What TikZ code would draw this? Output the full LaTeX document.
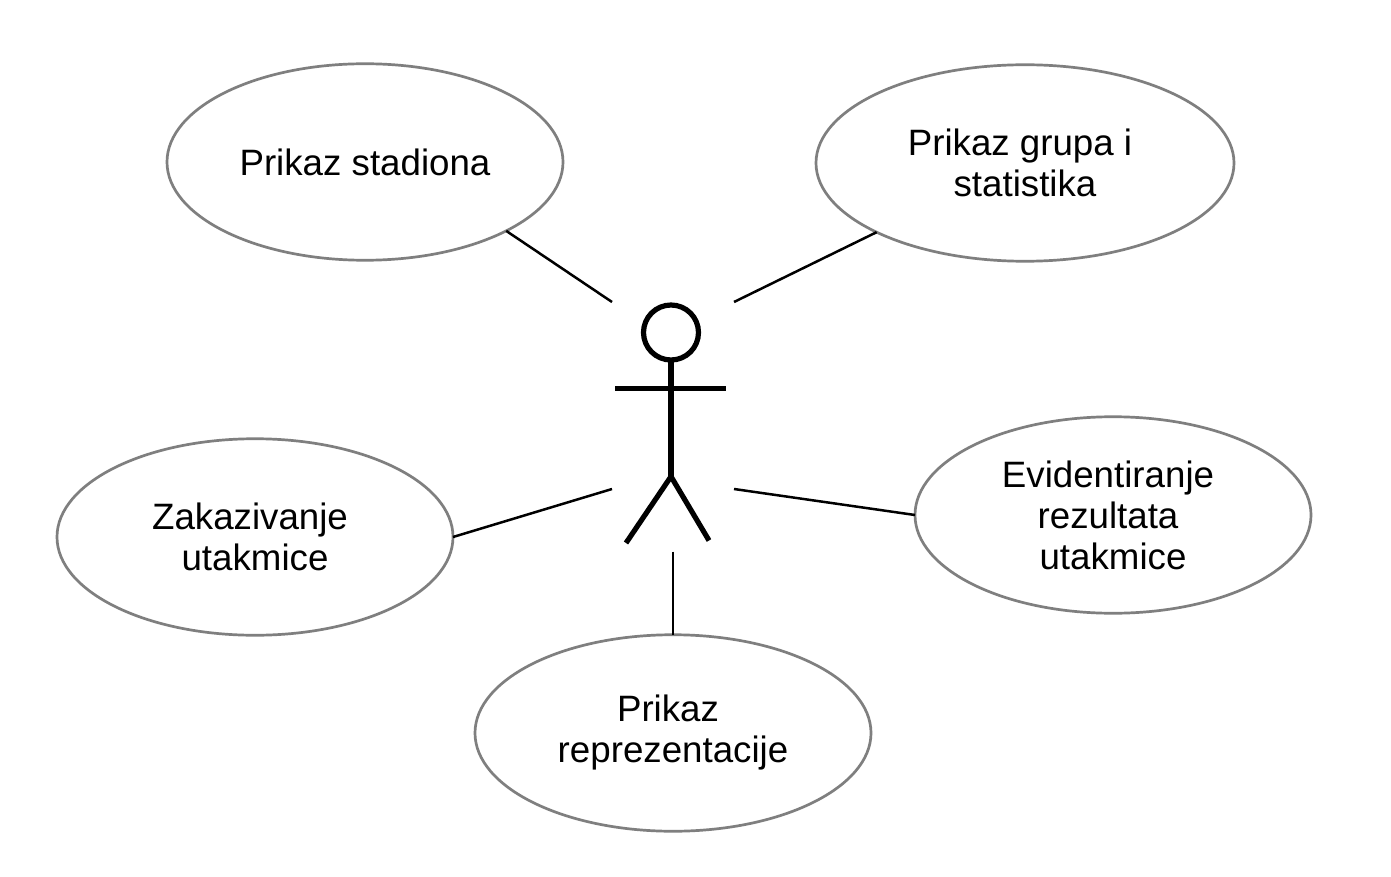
\documentclass[tikz,border=0pt]{standalone}
\usepackage{fontspec}
\setmainfont{Liberation Sans}
\usetikzlibrary{shapes.geometric}
\definecolor{ovalgray}{HTML}{7F7F7F}
\newcommand{\trail}{\hbox to 10pt{}}
\tikzset{
  usecase/.style={ellipse,draw=ovalgray,line width=2.7pt,fill=white,inner sep=0pt,outer sep=0pt,
    minimum width=396pt,minimum height=196.5pt,align=center,
    font=\fontsize{36.7}{41}\selectfont,text=black},
  link/.style={draw=black,line width=2.5pt},
  actor/.style={draw=black,line width=5.2pt},
}
\begin{document}
\begin{tikzpicture}[x=1pt,y=-1pt]
\useasboundingbox (0,0) rectangle (1391,877);
\fill[white] (0,0) rectangle (1391,877);
\node[usecase] (stadion) at (365,162) {Prikaz stadiona};
\node[usecase,minimum width=418pt] (grupe) at (1025,163) {Prikaz grupa i\trail\\statistika};
\node[usecase] (zakaz) at (255,537) {Zakazivanje\trail\\utakmice};
\node[usecase] (evid) at (1113,515) {Evidentiranje\trail\\rezultata\trail\\utakmice};
\node[usecase] (repr) at (673,733) {Prikaz\trail\\reprezentacije};
\coordinate (a1) at (612,302);
\coordinate (a2) at (734,302);
\coordinate (a3) at (612,489);
\coordinate (a4) at (734,489);
\coordinate (a5) at (673,551.5);
\draw[link] (a1) -- (stadion.-26.6);
\draw[link] (a2) -- (grupe.205);
\draw[link] (a3) -- (zakaz.0);
\draw[link] (a4) -- (evid.180);
\draw[link] (a5) -- (repr.90);
\node[circle,draw=black,line width=5.2pt,minimum size=55pt,inner sep=0pt,outer sep=0pt] (head) at (671,332.5) {};
\coordinate (armL) at (615,388.7);
\coordinate (armR) at (726,388.7);
\coordinate (hip) at (671,476.5);
\coordinate (legL) at (626,543);
\coordinate (legR) at (709,540.5);
\draw[actor] (armL) -- (armR);
\draw[actor] (head.south) -- (hip);
\draw[actor] (legL) -- (hip) -- (legR);
\end{tikzpicture}
\end{document}
